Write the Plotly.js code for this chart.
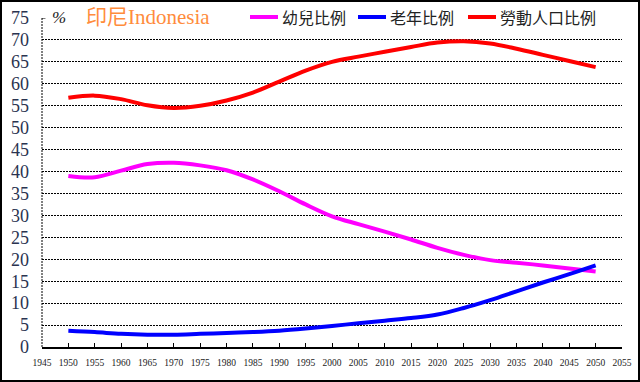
<!DOCTYPE html>
<html>
<head>
<meta charset="utf-8">
<script src="https://cdn.plot.ly/plotly-3.0.1.min.js"></script>
<style>
html,body{margin:0;padding:0;background:#fff;}
#chart{width:640px;height:382px;box-sizing:border-box;border:2px solid #000;}
</style>
</head>
<body>
<div id="chart"></div>
<script>
const years = [1950,1955,1960,1965,1970,1975,1980,1985,1990,1995,2000,2005,2010,2015,2020,2025,2030,2035,2040,2045,2050];
const childShare = [39.0,38.7,40.2,41.7,42.0,41.4,40.3,38.2,35.5,32.5,29.8,28.0,26.3,24.5,22.6,21.0,19.8,19.2,18.6,17.9,17.2];
const elderShare = [3.7,3.4,3.0,2.8,2.8,3.0,3.2,3.4,3.7,4.2,4.8,5.4,6.0,6.6,7.4,8.9,10.7,12.7,14.7,16.6,18.6];
const laborShare = [56.8,57.3,56.5,55.1,54.5,55.0,56.2,58.0,60.5,63.0,65.0,66.2,67.3,68.4,69.4,69.7,69.2,68.0,66.6,65.2,63.8];
const seriesNames = ['幼兒比例','老年比例','勞動人口比例'];
const seriesColors = ['#FF00FF','#0000FF','#FF0000'];
const xTicks = [1945,1950,1955,1960,1965,1970,1975,1980,1985,1990,1995,2000,2005,2010,2015,2020,2025,2030,2035,2040,2045,2050,2055];
const yTicks = [0,5,10,15,20,25,30,35,40,45,50,55,60,65,70,75];
const gridTicks = [5,10,15,20,25,30,35,40,45,50,55,60,65,70];

const values = [childShare, elderShare, laborShare];
const traces = values.map((v,i)=>({
  x: years, y: v, type:'scatter', mode:'lines', name: seriesNames[i],
  line:{color: seriesColors[i], width:4, shape:'spline', smoothing:1}
}));
traces.push({x:[1945], y:[0], yaxis:'y2', mode:'markers', marker:{opacity:0}, showlegend:false, hoverinfo:'skip'});

// manual legend placement (paper coords)
const legLineX = [0.3586, 0.5448, 0.7345];
const legLineW = 0.0483;
const legY = 1.003;
const shapes = [
  {type:'line', xref:'x domain', yref:'y', x0:0, x1:0, y0:0, y1:75, line:{color:'#000', width:1, dash:'2px,1px'}},
  {type:'line', xref:'x domain', yref:'y', x0:0, x1:0.006, y0:75, y1:75, line:{color:'#000', width:1}}
];
const annotations = [
  {text:'%', xref:'paper', yref:'paper', x:0.03, y:1.003, xanchor:'center', yanchor:'middle', showarrow:false,
    font:{family:'Times New Roman, Liberation Serif, serif', size:17, color:'#222', style:'italic'}},
  {text:'印尼Indonesia', xref:'paper', yref:'paper', x:0.072, y:1.003, xanchor:'left', yanchor:'middle', showarrow:false,
    font:{family:'Times New Roman, Liberation Serif, Noto Sans CJK TC, serif', size:21, color:'#FF8C3C'}}
];
seriesNames.forEach((n,i)=>{
  shapes.push({type:'line', xref:'paper', yref:'paper', x0:legLineX[i], x1:legLineX[i]+legLineW, y0:legY, y1:legY,
    line:{color:seriesColors[i], width:4}});
  annotations.push({text:n, xref:'paper', yref:'paper', x:legLineX[i]+legLineW+0.004, y:legY, xanchor:'left', yanchor:'middle',
    showarrow:false, font:{family:'Noto Sans CJK TC, sans-serif', size:16, color:'#222'}});
});

const layout = {
  width:636, height:378,
  margin:{l:40, r:16, t:16, b:33},
  paper_bgcolor:'#fff', plot_bgcolor:'#fff',
  showlegend:false,
  xaxis:{range:[1945,2055], tickvals:xTicks, ticktext:xTicks.map(String),
    showgrid:false, zeroline:false, showline:true, linecolor:'#000', linewidth:1.5,
    ticks:'inside', ticklen:4, tickcolor:'#000', tickwidth:1,
    tickfont:{family:'Times New Roman, Liberation Serif, serif', size:9.5, color:'#222'},
    ticklabelstandoff:6},
  yaxis:{range:[0,75], tickvals:yTicks, ticktext:yTicks.map(String),
    showgrid:false, zeroline:false, showline:false, ticks:'',
    tickfont:{family:'Times New Roman, Liberation Serif, serif', size:18, color:'#2a3350'},
    ticklabelstandoff:12},
  yaxis2:{range:[0,75], overlaying:'y', tickvals:gridTicks, showticklabels:false,
    showgrid:true, gridcolor:'#000', gridwidth:1, griddash:'2px,1px', zeroline:false, ticks:''},
  shapes: shapes,
  annotations: annotations
};
Plotly.newPlot('chart', traces, layout, {displayModeBar:false, staticPlot:true});
</script>
</body>
</html>
